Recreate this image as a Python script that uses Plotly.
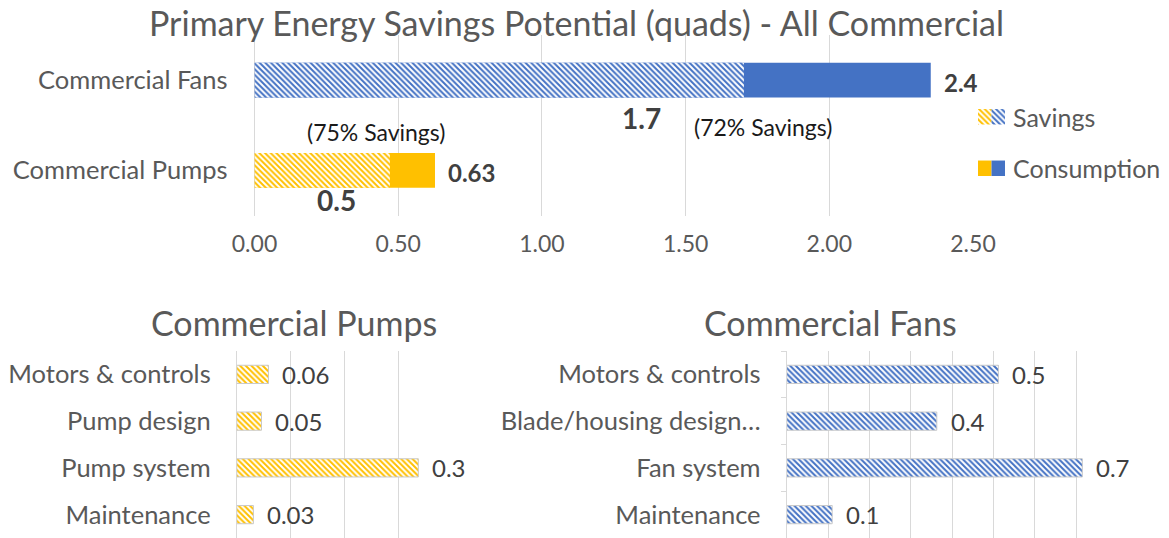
import plotly.graph_objects as go

W, H = 1169, 538

# ---------------- data ----------------
top_categories = ["Commercial Pumps", "Commercial Fans"]
top_consumption = [0.628, 2.353]
top_savings = [0.471, 1.703]
consumption_labels = ["0.63", "2.4"]
savings_labels = ["0.5", "1.7"]
top_ticks = [0.0, 0.5, 1.0, 1.5, 2.0, 2.5]

pump_measures = ["Motors & controls", "Pump design", "Pump system", "Maintenance"]
pump_savings = [0.059, 0.046, 0.337, 0.031]
pump_labels = ["0.06", "0.05", "0.3", "0.03"]

fan_measures = ["Motors & controls", "Blade/housing design…", "Fan system", "Maintenance"]
fan_savings = [0.512, 0.363, 0.715, 0.110]
fan_labels = ["0.5", "0.4", "0.7", "0.1"]

legend_items = ["Savings", "Consumption"]

# ---------------- style ----------------
YEL = "#FFC000"
BLUE = "#4472C4"
GRID = "#D9D9D9"
TXT = "#595959"
DARK = "#404040"
FONT = "Lato"
top_colors = [YEL, BLUE]


def px(x):
    return x / W


def py(y):
    return 1 - y / H


def hatch(fg, shape="\\"):
    return dict(shape=shape, fgcolor=fg, bgcolor="white", size=4, solidity=0.5, fillmode="replace")


fig = go.Figure()

# top chart: consumption (solid) overlaid by savings (hatched), one trace per category
for cat, cons, col in zip(top_categories, top_consumption, top_colors):
    fig.add_trace(go.Bar(
        x=[cons], y=[cat], orientation="h", width=0.387,
        marker=dict(color=col, line=dict(width=0)),
        xaxis="x", yaxis="y", showlegend=False, hoverinfo="skip"))
for cat, sav, col in zip(top_categories, top_savings, top_colors):
    fig.add_trace(go.Bar(
        x=[sav], y=[cat], orientation="h", width=0.387,
        marker=dict(color=col, line=dict(width=0), pattern=hatch(col)),
        xaxis="x", yaxis="y", showlegend=False, hoverinfo="skip"))

# bottom-left: pumps
fig.add_trace(go.Bar(
    x=pump_savings, y=pump_measures, orientation="h", width=0.39,
    marker=dict(color=YEL, line=dict(width=1, color="#C9C9C9"), pattern=hatch(YEL)),
    xaxis="x2", yaxis="y2", showlegend=False, hoverinfo="skip"))

# bottom-right: fans
fig.add_trace(go.Bar(
    x=fan_savings, y=fan_measures, orientation="h", width=0.39,
    marker=dict(color=BLUE, line=dict(width=1, color="#C9C9C9"), pattern=hatch(BLUE)),
    xaxis="x3", yaxis="y3", showlegend=False, hoverinfo="skip"))

# custom two-colour legend swatches (left half yellow, right half blue)
for i, col in enumerate(top_colors):
    for item, shp in zip(legend_items, ["\\", ""]):
        mk = dict(color=col, line=dict(width=0))
        if shp:
            mk["pattern"] = hatch(col)
        fig.add_trace(go.Bar(
            x=[1], base=[i], y=[item], orientation="h", width=0.3, marker=mk,
            xaxis="x4", yaxis="y4", showlegend=False, hoverinfo="skip"))

annotations = []

# top chart labels
for cat, val, lab in zip(top_categories, top_consumption, consumption_labels):
    annotations.append(dict(x=val, y=cat, xref="x", yref="y", text=f"<b>{lab}</b>",
                            xanchor="left", yanchor="middle", xshift=11, yshift=-2,
                            showarrow=False, font=dict(family=FONT, size=24, color=DARK)))

sav_label_pos = [(336, 200), (641, 118)]
pct_pos = [(376, 132), (763, 127)]
for i in range(2):
    annotations.append(dict(x=px(sav_label_pos[i][0]), y=py(sav_label_pos[i][1]), xref="paper", yref="paper",
                            text=f"<b>{savings_labels[i]}</b>", showarrow=False,
                            xanchor="center", yanchor="middle",
                            font=dict(family=FONT, size=28, color=DARK)))
    pct = round(100 * top_savings[i] / top_consumption[i])
    annotations.append(dict(x=px(pct_pos[i][0]), y=py(pct_pos[i][1]), xref="paper", yref="paper",
                            text=f"({pct}% Savings)", showarrow=False,
                            xanchor="center", yanchor="middle",
                            font=dict(family=FONT, size=23, color="#1a1a1a")))

# legend texts
for name, yy in zip(legend_items, [117, 168]):
    annotations.append(dict(x=px(1011), y=py(yy), xref="paper", yref="paper", text=name,
                            showarrow=False, xanchor="left", yanchor="middle",
                            font=dict(family=FONT, size=25, color=TXT)))

# bottom data labels
for cat, val, lab in zip(pump_measures, pump_savings, pump_labels):
    annotations.append(dict(x=val, y=cat, xref="x2", yref="y2", text=lab,
                            xanchor="left", yanchor="middle", xshift=12, showarrow=False,
                            font=dict(family=FONT, size=24, color=DARK)))
for cat, val, lab in zip(fan_measures, fan_savings, fan_labels):
    annotations.append(dict(x=val, y=cat, xref="x3", yref="y3", text=lab,
                            xanchor="left", yanchor="middle", xshift=12, showarrow=False,
                            font=dict(family=FONT, size=24, color=DARK)))

# titles
annotations.append(dict(x=px(576), y=py(23), xref="paper", yref="paper",
                        text="Primary Energy Savings Potential (quads) - All Commercial",
                        showarrow=False, xanchor="center", yanchor="middle",
                        font=dict(family=FONT, size=34, color=TXT)))
annotations.append(dict(x=px(294), y=py(322), xref="paper", yref="paper", text="Commercial Pumps",
                        showarrow=False, xanchor="center", yanchor="middle",
                        font=dict(family=FONT, size=34, color=TXT)))
annotations.append(dict(x=px(830), y=py(322), xref="paper", yref="paper", text="Commercial Fans",
                        showarrow=False, xanchor="center", yanchor="middle",
                        font=dict(family=FONT, size=34, color=TXT)))

tickfont = dict(family=FONT, size=25.5, color=TXT)

fig.update_layout(
    width=W, height=H,
    margin=dict(l=0, r=0, t=0, b=0, autoexpand=False),
    paper_bgcolor="white", plot_bgcolor="white",
    barmode="overlay",
    font=dict(family=FONT, color=TXT),
    annotations=annotations,
    xaxis=dict(domain=[px(254.5), px(973)], range=[0, 2.5], tickvals=top_ticks,
               ticktext=[f"{t:.2f}" for t in top_ticks], showgrid=True, gridcolor=GRID,
               zeroline=True, zerolinecolor=GRID, zerolinewidth=1, showline=False,
               ticks="", ticklabelstandoff=12, tickfont=dict(family=FONT, size=23, color=TXT),
               anchor="y", fixedrange=True, automargin=False),
    yaxis=dict(domain=[py(215.5), py(35)], categoryorder="array", categoryarray=top_categories,
               showgrid=False, zeroline=False, showline=False, ticks="",
               ticklabelstandoff=26, tickfont=tickfont, anchor="x", fixedrange=True,
               automargin=False),
    xaxis2=dict(domain=[px(236.7), px(452.3)], range=[0, 0.4], dtick=0.1, showgrid=True,
                gridcolor=GRID, zeroline=True, zerolinecolor=GRID, zerolinewidth=1,
                showticklabels=False, ticks="", anchor="y2", fixedrange=True, automargin=False),
    yaxis2=dict(domain=[0, py(351)], autorange="reversed", showgrid=False, zeroline=False,
                showline=False, ticks="", ticklabelstandoff=25, tickfont=tickfont,
                anchor="x2", fixedrange=True, automargin=False),
    xaxis3=dict(domain=[px(786.7), px(1117.5)], range=[0, 0.8], dtick=0.1, showgrid=True,
                gridcolor=GRID, zeroline=True, zerolinecolor=GRID, zerolinewidth=1,
                showticklabels=False, ticks="", anchor="y3", fixedrange=True, automargin=False),
    yaxis3=dict(domain=[0, py(351)], autorange="reversed", showgrid=False, zeroline=False,
                showline=True, linecolor=GRID, ticks="outside", tickson="boundaries",
                ticklen=5, tickcolor=GRID, ticklabelstandoff=20, tickfont=tickfont,
                anchor="x3", fixedrange=True, automargin=False),
    xaxis4=dict(domain=[px(978), px(1005)], range=[0, 2], visible=False, anchor="y4",
                fixedrange=True, automargin=False),
    yaxis4=dict(domain=[py(194), py(91)], categoryorder="array",
                categoryarray=legend_items[::-1], visible=False, anchor="x4",
                fixedrange=True, automargin=False),
)

fig.write_html(
    "out.html",
    config={"displayModeBar": False},
    post_script="document.body.style.margin='0';document.body.style.padding='0';"
                "document.body.style.overflow='hidden';",
)
